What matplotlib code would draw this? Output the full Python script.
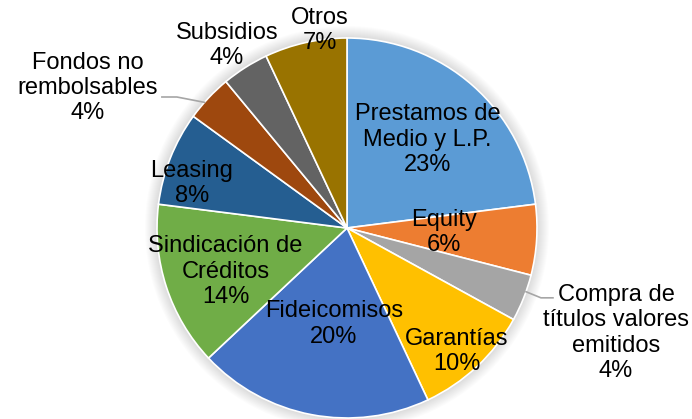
import numpy as np
import matplotlib.pyplot as plt
from matplotlib.patches import Circle

labels = ['Prestamos de\nMedio y L.P.', 'Equity', 'Compra de\ntítulos valores\nemitidos',
          'Garantías', 'Fideicomisos', 'Sindicación de\nCréditos', 'Leasing',
          'Fondos no\nrembolsables', 'Subsidios', 'Otros']
values = [23, 6, 4, 10, 20, 14, 8, 4, 4, 7]
colors = ['#5B9BD5', '#ED7D31', '#A5A5A5', '#FFC000', '#4472C4', '#70AD47',
          '#255E91', '#9E480E', '#636363', '#997300']

# label placement: (radius factor, angle offset in deg) relative to wedge middle
label_place = [(0.63, -1), (0.51, 1), (1.52, 0.3), (0.87, -1.6), (0.51, 3),
               (0.68, 1.8), (0.85, 5.6), (1.55, 14.8), (1.15, 0.9), (1.05, -4.8)]
# leader lines: (start radius, start angle offset, elbow radius, elbow angle offset, horizontal length)
leaders = {2: (1.0, 2.0, 1.085, 1.8, 12), 7: (1.0, 1.8, 1.13, 5.6, -15)}

plt.rcParams['font.family'] = ['Liberation Sans', 'DejaVu Sans']

fig = plt.figure(figsize=(6.92, 4.19), dpi=100)
ax = fig.add_axes([0, 0, 1, 1])
R = 190
cx, cy = 347, 228

# soft shadow
for i in range(12):
    ax.add_patch(Circle((0, 0), R + 12 - i, color='#000000', alpha=0.013, lw=0, zorder=0))

wedges, _ = ax.pie(values, colors=colors, startangle=90, counterclock=False, radius=R,
                   wedgeprops=dict(edgecolor='white', linewidth=1.2), center=(0, 0), frame=True)
ax.set_xlim(-cx, 692 - cx)
ax.set_ylim(-(419 - cy), cy)
ax.set_aspect('equal')
ax.axis('off')

for i, (w, lab, v) in enumerate(zip(wedges, labels, values)):
    mid = (w.theta1 + w.theta2) / 2
    rf, off = label_place[i]
    a = np.deg2rad(mid + off)
    x, y = rf * R * np.cos(a), rf * R * np.sin(a)
    ax.text(x, y, f'{lab}\n{v}%', ha='center', va='center', fontsize=17,
            color='#000000', linespacing=1.2, zorder=5)
    if i in leaders:
        r0, o0, r1, o1, hx = leaders[i]
        a0, a1 = np.deg2rad(mid + o0), np.deg2rad(mid + o1)
        p0 = (r0 * R * np.cos(a0), r0 * R * np.sin(a0))
        p1 = (r1 * R * np.cos(a1), r1 * R * np.sin(a1))
        ax.plot([p0[0], p1[0], p1[0] + hx], [p0[1], p1[1], p1[1]], color='#A6A6A6', lw=1.2, zorder=4)

fig.savefig('out.png', dpi=100)
